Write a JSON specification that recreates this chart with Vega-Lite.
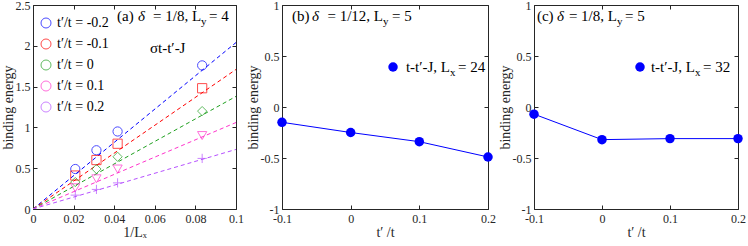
{
  "$schema": "https://vega.github.io/schema/vega-lite/v6.json",
  "padding": {"left": 0, "top": -2, "right": 0, "bottom": 0},
  "spacing": 46,
  "bounds": "flush",
  "background": "white",
  "config": {
    "view": {"stroke": "#262626", "strokeWidth": 1},
    "font": "Times New Roman, Liberation Serif, serif",
    "text": {"font": "Times New Roman, Liberation Serif, serif"},
    "style": {
      "guide-label": {"font": "Times New Roman, Liberation Serif, serif"},
      "guide-title": {"font": "Times New Roman, Liberation Serif, serif"}
    },
    "axis": {
      "labelFont": "Times New Roman, Liberation Serif, serif", "labelFontSize": 12, "labelColor": "#262626",
      "titleFont": "Times New Roman, Liberation Serif, serif", "titleFontSize": 14, "titleFontWeight": "normal", "titleColor": "#262626",
      "tickColor": "#262626", "tickSize": -4, "labelPadding": 7, "domain": false, "grid": false, "labelFlush": false, "labelOverlap": false,
      "labelExpr": "replace(format(datum.value, '.2~f'), '−', '-')"
    },
    "axisX": {"titlePadding": 1, "labelPadding": 8},
    "axisY": {"titlePadding": 0},
    "legend": {"labelFont": "Times New Roman, Liberation Serif, serif"}
  },
  "datasets": {
    "one": [{}],
    "apts": [
      {"lx": 0.02083, "E": 0.49, "s": "t′/t = -0.2"},
      {"lx": 0.03125, "E": 0.72, "s": "t′/t = -0.2"},
      {"lx": 0.04167, "E": 0.95, "s": "t′/t = -0.2"},
      {"lx": 0.08333, "E": 1.76, "s": "t′/t = -0.2"},
      {"lx": 0.02083, "E": 0.41, "s": "t′/t = -0.1"},
      {"lx": 0.03125, "E": 0.60, "s": "t′/t = -0.1"},
      {"lx": 0.04167, "E": 0.80, "s": "t′/t = -0.1"},
      {"lx": 0.08333, "E": 1.48, "s": "t′/t = -0.1"},
      {"lx": 0.02083, "E": 0.33, "s": "t′/t = 0"},
      {"lx": 0.03125, "E": 0.49, "s": "t′/t = 0"},
      {"lx": 0.04167, "E": 0.64, "s": "t′/t = 0"},
      {"lx": 0.08333, "E": 1.20, "s": "t′/t = 0"},
      {"lx": 0.02083, "E": 0.26, "s": "t′/t = 0.1"},
      {"lx": 0.03125, "E": 0.37, "s": "t′/t = 0.1"},
      {"lx": 0.04167, "E": 0.49, "s": "t′/t = 0.1"},
      {"lx": 0.08333, "E": 0.90, "s": "t′/t = 0.1"},
      {"lx": 0.02083, "E": 0.17, "s": "t′/t = 0.2"},
      {"lx": 0.03125, "E": 0.24, "s": "t′/t = 0.2"},
      {"lx": 0.04167, "E": 0.32, "s": "t′/t = 0.2"},
      {"lx": 0.08333, "E": 0.62, "s": "t′/t = 0.2"}
    ],
    "afit": [
      {"lx": 0, "E": 0, "f": "-0.2"}, {"lx": 0.1, "E": 2.04, "f": "-0.2"},
      {"lx": 0, "E": 0, "f": "-0.1"}, {"lx": 0.1, "E": 1.71, "f": "-0.1"},
      {"lx": 0, "E": 0, "f": "0"}, {"lx": 0.1, "E": 1.38, "f": "0"},
      {"lx": 0, "E": 0, "f": "0.1"}, {"lx": 0.1, "E": 1.06, "f": "0.1"},
      {"lx": 0, "E": 0, "f": "0.2"}, {"lx": 0.1, "E": 0.73, "f": "0.2"}
    ],
    "b": [
      {"tp": -0.1, "E": -0.15}, {"tp": 0, "E": -0.25}, {"tp": 0.1, "E": -0.34}, {"tp": 0.2, "E": -0.49}
    ],
    "c": [
      {"tp": -0.1, "E": -0.07}, {"tp": 0, "E": -0.32}, {"tp": 0.1, "E": -0.31}, {"tp": 0.2, "E": -0.31}
    ]
  },
  "hconcat": [
    {
      "width": 203, "height": 204,
      "resolve": {"scale": {"color": "independent"}, "axis": {"x": "independent", "y": "independent"}},
      "layer": [
        {
          "data": {"name": "afit"},
          "mark": {"type": "line", "strokeDash": [4, 3], "strokeWidth": 1, "clip": true},
          "encoding": {
            "x": {"field": "lx", "type": "quantitative", "scale": {"domain": [0, 0.1], "nice": false}, "axis": {"values": [0, 0.02, 0.04, 0.06, 0.08, 0.1], "title": "1/Lₓ"}},
            "y": {"field": "E", "type": "quantitative", "scale": {"domain": [0, 2.5], "nice": false}, "axis": {"values": [0, 0.5, 1, 1.5, 2, 2.5], "title": "binding energy"}},
            "color": {"field": "f", "type": "nominal", "scale": {"domain": ["-0.2", "-0.1", "0", "0.1", "0.2"], "range": ["#0000ff", "#ff0000", "#1fa01f", "#ff33cc", "#b650ff"]}, "legend": null}
          }
        },
        {
          "data": {"name": "apts"},
          "mark": {"type": "point", "filled": false, "size": 85, "strokeWidth": 1},
          "encoding": {
            "x": {"field": "lx", "type": "quantitative", "axis": null},
            "y": {"field": "E", "type": "quantitative", "axis": null},
            "color": {"field": "s", "type": "nominal", "scale": {"domain": ["t′/t = -0.2", "t′/t = -0.1", "t′/t = 0", "t′/t = 0.1", "t′/t = 0.2"], "range": ["#0000ff", "#ff0000", "#1fa01f", "#ff33cc", "#b650ff"]},
              "legend": {"orient": "none", "legendX": 6, "legendY": 11, "title": null, "padding": 0, "labelFontSize": 14, "labelColor": "black", "symbolSize": 100, "symbolStrokeWidth": 1, "rowPadding": 7, "labelOffset": 4}},
            "shape": {"field": "s", "type": "nominal", "scale": {"domain": ["t′/t = -0.2", "t′/t = -0.1", "t′/t = 0", "t′/t = 0.1", "t′/t = 0.2"], "range": ["circle", "square", "diamond", "triangle-down", "M-1,0L1,0M0,-1L0,1"]}}
          }
        },
        {
          "data": {"name": "afit"},
          "mark": {"type": "point", "opacity": 0},
          "encoding": {
            "x": {"field": "lx", "type": "quantitative", "axis": {"orient": "top", "labels": false, "title": null, "values": [0, 0.02, 0.04, 0.06, 0.08, 0.1]}},
            "y": {"field": "E", "type": "quantitative", "axis": {"orient": "right", "labels": false, "title": null, "values": [0, 0.5, 1, 1.5, 2, 2.5]}}
          }
        },
        {"data": {"name": "one"}, "mark": {"type": "text", "align": "left", "baseline": "middle", "fontSize": 15, "dx": -84}, "encoding": {"x": {"datum": 0.0828, "type": "quantitative", "axis": null}, "y": {"datum": 2.365, "type": "quantitative", "axis": null}, "text": {"value": "(a)"}}},
        {"data": {"name": "one"}, "mark": {"type": "text", "align": "left", "baseline": "middle", "fontSize": 15, "fontStyle": "italic", "dx": -63}, "encoding": {"x": {"datum": 0.0828, "type": "quantitative", "axis": null}, "y": {"datum": 2.365, "type": "quantitative", "axis": null}, "text": {"value": "δ"}}},
        {"data": {"name": "one"}, "mark": {"type": "text", "align": "right", "baseline": "middle", "fontSize": 15}, "encoding": {"x": {"datum": 0.0828, "type": "quantitative", "axis": null}, "y": {"datum": 2.365, "type": "quantitative", "axis": null}, "text": {"value": "= 1/8, L"}}},
        {"data": {"name": "one"}, "mark": {"type": "text", "align": "left", "baseline": "middle", "fontSize": 11, "dy": 6}, "encoding": {"x": {"datum": 0.0828, "type": "quantitative", "axis": null}, "y": {"datum": 2.365, "type": "quantitative", "axis": null}, "text": {"value": "y"}}},
        {"data": {"name": "one"}, "mark": {"type": "text", "align": "left", "baseline": "middle", "fontSize": 15, "dx": 8}, "encoding": {"x": {"datum": 0.0828, "type": "quantitative", "axis": null}, "y": {"datum": 2.365, "type": "quantitative", "axis": null}, "text": {"value": "= 4"}}},
        {"data": {"name": "one"}, "mark": {"type": "text", "align": "left", "baseline": "middle", "fontSize": 15}, "encoding": {"x": {"datum": 0.0576, "type": "quantitative", "axis": null}, "y": {"datum": 1.97, "type": "quantitative", "axis": null}, "text": {"value": "σt-t′-J"}}}
      ]
    },
    {
      "width": 206, "height": 204,
      "resolve": {"axis": {"x": "independent", "y": "independent"}},
      "layer": [
        {
          "data": {"name": "b"},
          "mark": {"type": "line", "color": "#0000ff", "strokeWidth": 1},
          "encoding": {
            "x": {"field": "tp", "type": "quantitative", "scale": {"domain": [-0.1, 0.2], "nice": false}, "axis": {"values": [-0.1, 0, 0.1, 0.2], "title": "t′ /t"}},
            "y": {"field": "E", "type": "quantitative", "scale": {"domain": [-1, 1], "nice": false}, "axis": {"values": [-1, -0.5, 0, 0.5, 1], "title": "binding energy"}}
          }
        },
        {
          "data": {"name": "b"},
          "mark": {"type": "point", "filled": true, "color": "#0000ff", "size": 90, "opacity": 1},
          "encoding": {
            "x": {"field": "tp", "type": "quantitative", "axis": {"orient": "top", "labels": false, "title": null, "values": [-0.1, 0, 0.1, 0.2]}},
            "y": {"field": "E", "type": "quantitative", "axis": {"orient": "right", "labels": false, "title": null, "values": [-1, -0.5, 0, 0.5, 1]}}
          }
        },
        {"data": {"name": "one"}, "mark": {"type": "point", "filled": true, "color": "#0000ff", "size": 90, "opacity": 1}, "encoding": {"x": {"datum": 0.0617, "type": "quantitative", "axis": null}, "y": {"datum": 0.392, "type": "quantitative", "axis": null}}},
        {"data": {"name": "one"}, "mark": {"type": "text", "align": "right", "baseline": "middle", "fontSize": 15}, "encoding": {"x": {"datum": 0.1447, "type": "quantitative", "axis": null}, "y": {"datum": 0.392, "type": "quantitative", "axis": null}, "text": {"value": "t-t′-J, L"}}},
        {"data": {"name": "one"}, "mark": {"type": "text", "align": "left", "baseline": "middle", "fontSize": 11, "dy": 6}, "encoding": {"x": {"datum": 0.1447, "type": "quantitative", "axis": null}, "y": {"datum": 0.392, "type": "quantitative", "axis": null}, "text": {"value": "x"}}},
        {"data": {"name": "one"}, "mark": {"type": "text", "align": "left", "baseline": "middle", "fontSize": 15, "dx": 8}, "encoding": {"x": {"datum": 0.1447, "type": "quantitative", "axis": null}, "y": {"datum": 0.392, "type": "quantitative", "axis": null}, "text": {"value": "= 24"}}},
        {"data": {"name": "one"}, "mark": {"type": "text", "align": "left", "baseline": "middle", "fontSize": 15, "dx": -91}, "encoding": {"x": {"datum": 0.0471, "type": "quantitative", "axis": null}, "y": {"datum": 0.892, "type": "quantitative", "axis": null}, "text": {"value": "(b)"}}},
        {"data": {"name": "one"}, "mark": {"type": "text", "align": "left", "baseline": "middle", "fontSize": 15, "fontStyle": "italic", "dx": -71}, "encoding": {"x": {"datum": 0.0471, "type": "quantitative", "axis": null}, "y": {"datum": 0.892, "type": "quantitative", "axis": null}, "text": {"value": "δ"}}},
        {"data": {"name": "one"}, "mark": {"type": "text", "align": "right", "baseline": "middle", "fontSize": 15}, "encoding": {"x": {"datum": 0.0471, "type": "quantitative", "axis": null}, "y": {"datum": 0.892, "type": "quantitative", "axis": null}, "text": {"value": "= 1/12, L"}}},
        {"data": {"name": "one"}, "mark": {"type": "text", "align": "left", "baseline": "middle", "fontSize": 11, "dy": 6}, "encoding": {"x": {"datum": 0.0471, "type": "quantitative", "axis": null}, "y": {"datum": 0.892, "type": "quantitative", "axis": null}, "text": {"value": "y"}}},
        {"data": {"name": "one"}, "mark": {"type": "text", "align": "left", "baseline": "middle", "fontSize": 15, "dx": 9}, "encoding": {"x": {"datum": 0.0471, "type": "quantitative", "axis": null}, "y": {"datum": 0.892, "type": "quantitative", "axis": null}, "text": {"value": "= 5"}}}
      ]
    },
    {
      "width": 204, "height": 204,
      "resolve": {"axis": {"x": "independent", "y": "independent"}},
      "layer": [
        {
          "data": {"name": "c"},
          "mark": {"type": "line", "color": "#0000ff", "strokeWidth": 1},
          "encoding": {
            "x": {"field": "tp", "type": "quantitative", "scale": {"domain": [-0.1, 0.2], "nice": false}, "axis": {"values": [-0.1, 0, 0.1, 0.2], "title": "t′ /t"}},
            "y": {"field": "E", "type": "quantitative", "scale": {"domain": [-1, 1], "nice": false}, "axis": {"values": [-1, -0.5, 0, 0.5, 1], "title": "binding energy"}}
          }
        },
        {
          "data": {"name": "c"},
          "mark": {"type": "point", "filled": true, "color": "#0000ff", "size": 90, "opacity": 1},
          "encoding": {
            "x": {"field": "tp", "type": "quantitative", "axis": {"orient": "top", "labels": false, "title": null, "values": [-0.1, 0, 0.1, 0.2]}},
            "y": {"field": "E", "type": "quantitative", "axis": {"orient": "right", "labels": false, "title": null, "values": [-1, -0.5, 0, 0.5, 1]}}
          }
        },
        {"data": {"name": "one"}, "mark": {"type": "point", "filled": true, "color": "#0000ff", "size": 90, "opacity": 1}, "encoding": {"x": {"datum": 0.0559, "type": "quantitative", "axis": null}, "y": {"datum": 0.392, "type": "quantitative", "axis": null}}},
        {"data": {"name": "one"}, "mark": {"type": "text", "align": "right", "baseline": "middle", "fontSize": 15}, "encoding": {"x": {"datum": 0.1368, "type": "quantitative", "axis": null}, "y": {"datum": 0.392, "type": "quantitative", "axis": null}, "text": {"value": "t-t′-J, L"}}},
        {"data": {"name": "one"}, "mark": {"type": "text", "align": "left", "baseline": "middle", "fontSize": 11, "dy": 6}, "encoding": {"x": {"datum": 0.1368, "type": "quantitative", "axis": null}, "y": {"datum": 0.392, "type": "quantitative", "axis": null}, "text": {"value": "x"}}},
        {"data": {"name": "one"}, "mark": {"type": "text", "align": "left", "baseline": "middle", "fontSize": 15, "dx": 8}, "encoding": {"x": {"datum": 0.1368, "type": "quantitative", "axis": null}, "y": {"datum": 0.392, "type": "quantitative", "axis": null}, "text": {"value": "= 32"}}},
        {"data": {"name": "one"}, "mark": {"type": "text", "align": "left", "baseline": "middle", "fontSize": 15, "dx": -80}, "encoding": {"x": {"datum": 0.022, "type": "quantitative", "axis": null}, "y": {"datum": 0.892, "type": "quantitative", "axis": null}, "text": {"value": "(c)"}}},
        {"data": {"name": "one"}, "mark": {"type": "text", "align": "left", "baseline": "middle", "fontSize": 15, "fontStyle": "italic", "dx": -60}, "encoding": {"x": {"datum": 0.022, "type": "quantitative", "axis": null}, "y": {"datum": 0.892, "type": "quantitative", "axis": null}, "text": {"value": "δ"}}},
        {"data": {"name": "one"}, "mark": {"type": "text", "align": "right", "baseline": "middle", "fontSize": 15}, "encoding": {"x": {"datum": 0.022, "type": "quantitative", "axis": null}, "y": {"datum": 0.892, "type": "quantitative", "axis": null}, "text": {"value": "= 1/8, L"}}},
        {"data": {"name": "one"}, "mark": {"type": "text", "align": "left", "baseline": "middle", "fontSize": 11, "dy": 6}, "encoding": {"x": {"datum": 0.022, "type": "quantitative", "axis": null}, "y": {"datum": 0.892, "type": "quantitative", "axis": null}, "text": {"value": "y"}}},
        {"data": {"name": "one"}, "mark": {"type": "text", "align": "left", "baseline": "middle", "fontSize": 15, "dx": 8}, "encoding": {"x": {"datum": 0.022, "type": "quantitative", "axis": null}, "y": {"datum": 0.892, "type": "quantitative", "axis": null}, "text": {"value": "= 5"}}}
      ]
    }
  ]
}
